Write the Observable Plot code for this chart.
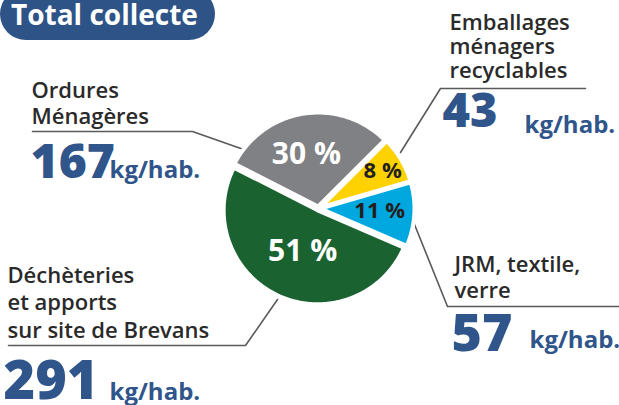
<!DOCTYPE html>
<html><head><meta charset="utf-8">
<script src="https://cdn.jsdelivr.net/npm/d3@7"></script>
<script src="https://cdn.jsdelivr.net/npm/@observablehq/plot@0.6"></script>
<style>
html,body{margin:0;padding:0;background:#fff;}
#wrap{position:relative;width:619px;height:405px;overflow:hidden;}
#title{position:absolute;left:0;top:-12px;width:215px;height:52px;background:#2e5387;border-radius:26px;color:#fff;font-family:"Open Sans",sans-serif;font-weight:700;font-size:28px;line-height:28px;box-sizing:border-box;padding:12px 0 0 11px;white-space:nowrap;}
#chart svg{display:block;}
</style>
</head><body>
<div id="wrap"><div id="chart"></div><div id="title">Total collecte</div></div>
<script>
// ---- data ----
const categories = ["Ordures\nMénagères", "Emballages\nménagers\nrecyclables", "JRM, textile,\nverre", "Déchèteries\net apports\nsur site de Brevans"];
const percents = [30, 8, 11, 51];
const kgPerHab = [167, 43, 57, 291];
const unitLabel = "kg/hab.";
const colors = ["#808184", "#fed100", "#00a8df", "#1a6331"];

// ---- layout ----
const layout = {
  pie: {cx: 318, cy: 208, r: 94, explode: 2, gap: 4, startDeg: -63},
  pctNudge: [[-3, 3], [14, -8], [3, -1], [9, -10]],
  pctSize: [30, 22, 22, 30],
  pctLight: [true, false, false, true],
  label: [{x: 31, y: 123, lh: 1.18, size: 22}, {x: 449, y: 77, lh: 1.07, size: 22}, {x: 454, y: 297, lh: 1.14, size: 22}, {x: 7, y: 337, lh: 1.23, size: 22}],
  value: [{x: 30, y: 177, size: 48}, {x: 442, y: 126, size: 47}, {x: 451, y: 350, size: 52}, {x: 3, y: 398, size: 54}],
  unit: [{x: 109, y: 177}, {x: 524, y: 132}, {x: 529, y: 347}, {x: 109, y: 399}],
  leader: [[[32, 131], [192, 131], [246, 150]], [[585, 88], [440, 88], [400, 152]], [[619, 306], [447, 306], [410, 214]], [[8, 345], [245, 345], [277, 299]]]
};

const P = layout.pie;
const arcs = d3.pie().sort(null)
  .startAngle(P.startDeg * Math.PI / 180)
  .endAngle(P.startDeg * Math.PI / 180 + 2 * Math.PI)(percents);

const slicePts = [];
const pctData = [];
arcs.forEach((a, i) => {
  const cat = categories[i];
  const mid = (a.startAngle + a.endAngle) / 2;
  const ox = P.explode * Math.sin(mid), oy = -P.explode * Math.cos(mid);
  const n = Math.max(10, Math.ceil((a.endAngle - a.startAngle) / 0.02));
  slicePts.push({cat, x: P.cx + ox, y: P.cy + oy});
  for (let k = 0; k <= n; k++) {
    const t = a.startAngle + (a.endAngle - a.startAngle) * k / n;
    slicePts.push({cat, x: P.cx + ox + P.r * Math.sin(t), y: P.cy + oy - P.r * Math.cos(t)});
  }
  const rr = P.r * 0.62;
  pctData.push({
    text: percents[i] + " %",
    x: P.cx + rr * Math.sin(mid) + layout.pctNudge[i][0],
    y: P.cy - rr * Math.cos(mid) + layout.pctNudge[i][1],
    size: layout.pctSize[i], light: layout.pctLight[i]
  });
});

const leaderPts = [];
layout.leader.forEach((pts, i) => pts.forEach(p => leaderPts.push({cat: categories[i], x: p[0], y: p[1]})));

const valueData = kgPerHab.map((v, i) => ({text: String(v), x: layout.value[i].x, y: layout.value[i].y, size: layout.value[i].size}));
const unitData = kgPerHab.map((v, i) => ({text: unitLabel, x: layout.unit[i].x, y: layout.unit[i].y}));

const labelMarks = categories.map((c, i) => Plot.text([c], {
  x: () => layout.label[i].x, y: () => layout.label[i].y, text: d => d,
  textAnchor: "start", lineAnchor: "bottom", lineHeight: layout.label[i].lh,
  fontSize: layout.label[i].size, fontFamily: "Open Sans", fontWeight: 600, fill: "#2a2a2a"
}));

const chart = Plot.plot({
  width: 619, height: 405, margin: 0,
  x: {domain: [0, 619], range: [0, 619], axis: null},
  y: {domain: [0, 405], range: [0, 405], axis: null},
  color: {domain: categories, range: colors},
  marks: [
    Plot.line(leaderPts, {x: "x", y: "y", z: "cat", stroke: "#5a5a5a", strokeWidth: 1.6}),
    Plot.line(slicePts, {x: "x", y: "y", z: "cat", fill: "cat", stroke: "white", strokeWidth: P.gap, strokeLinejoin: "round", curve: "linear-closed"}),
    Plot.text(pctData, {filter: d => d.light, x: "x", y: "y", text: "text", fontSize: "size", fontFamily: "Open Sans", fontWeight: 700, fill: "white", textAnchor: "middle", lineAnchor: "middle"}),
    Plot.text(pctData, {filter: d => !d.light, x: "x", y: "y", text: "text", fontSize: "size", fontFamily: "Open Sans", fontWeight: 700, fill: "#231f20", textAnchor: "middle", lineAnchor: "middle"}),
    ...labelMarks,
    Plot.text(valueData, {x: "x", y: "y", text: "text", fontSize: "size", fontFamily: "Open Sans", fontWeight: 800, fill: "#2f558b", textAnchor: "start", lineAnchor: "bottom"}),
    Plot.text(unitData, {x: "x", y: "y", text: "text", fontSize: 24, fontFamily: "Open Sans", fontWeight: 700, fill: "#2f558b", textAnchor: "start", lineAnchor: "bottom"})
  ]
});
document.getElementById("chart").appendChild(chart);
</script>
</body></html>
